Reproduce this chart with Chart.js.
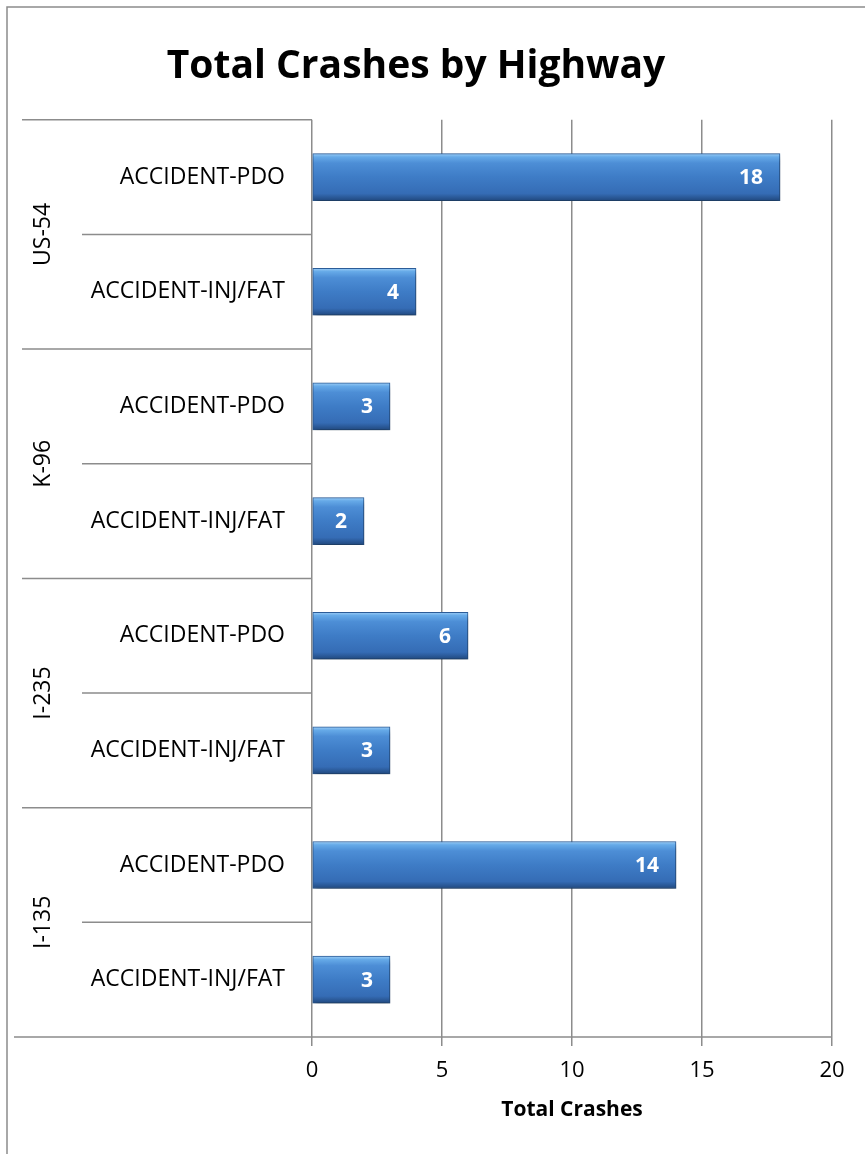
<!DOCTYPE html>
<html>
<head>
<meta charset="utf-8">
<title>Total Crashes by Highway</title>
<script src="https://cdn.jsdelivr.net/npm/chart.js@4/dist/chart.umd.min.js"></script>
<style>
  html, body { margin: 0; padding: 0; background: #fff; }
  #wrap { width: 865px; height: 1154px; position: relative; }
</style>
</head>
<body>
<div id="wrap"><canvas id="crashChart"></canvas></div>
<script>
// highways (outer category) and crash types (inner category), top to bottom
const highways = ['US-54', 'K-96', 'I-235', 'I-135'];
const crashTypes = ['ACCIDENT-PDO', 'ACCIDENT-INJ/FAT'];
const pdoCrashes = [18, 3, 6, 14];
const injFatCrashes = [4, 2, 3, 3];
const xTicks = [0, 5, 10, 15, 20];

// flatten into one row per highway + type
const labels = [];
const values = [];
highways.forEach((hw, i) => {
    labels.push(crashTypes[0]);
    values.push(pdoCrashes[i]);
    labels.push(crashTypes[1]);
    values.push(injFatCrashes[i]);
});

const FONT = "'Open Sans', 'DejaVu Sans', sans-serif";
const LINE = '#8c8c8c';
const BAR_H = 47;

function barFill(context) {
    const chart = context.chart;
    const y = chart.scales.y;
    if (!y || context.dataIndex === undefined) return '#3b78c0';
    const c = y.getPixelForValue(context.dataIndex);
    if (!Number.isFinite(c)) return '#3b78c0';
    const g = chart.ctx.createLinearGradient(0, c - BAR_H / 2, 0, c + BAR_H / 2);
    g.addColorStop(0, '#9ccdf6');
    g.addColorStop(0.07, '#66aae8');
    g.addColorStop(0.2, '#4d8ed6');
    g.addColorStop(0.5, '#3e7cc6');
    g.addColorStop(0.85, '#356cb5');
    g.addColorStop(1, '#21497f');
    return g;
}

// frame, category dividers, group labels, bottom axis line
const decorations = {
    id: 'decorations',
    beforeDraw(chart) {
        const ctx = chart.ctx;
        ctx.save();
        ctx.strokeStyle = LINE;
        ctx.lineWidth = 1.5;
        ctx.beginPath();
        ctx.moveTo(7, chart.height);
        ctx.lineTo(7, 7);
        ctx.lineTo(chart.width, 7);
        ctx.stroke();
        ctx.restore();
    },
    afterDraw(chart) {
        const ctx = chart.ctx;
        const y = chart.scales.y;
        const area = chart.chartArea;
        const boundary = i => (y.getPixelForValue(i) + y.getPixelForValue(i + 1)) / 2;
        ctx.save();
        ctx.strokeStyle = LINE;
        ctx.lineWidth = 1.5;
        ctx.beginPath();
        // top line
        ctx.moveTo(22, area.top);
        ctx.lineTo(area.left, area.top);
        for (let i = 0; i < labels.length - 1; i++) {
            const py = boundary(i);
            const startX = (i % 2 === 1) ? 22 : 82;
            ctx.moveTo(startX, py);
            ctx.lineTo(area.left, py);
        }
        // bottom axis line
        ctx.moveTo(14, area.bottom);
        ctx.lineTo(area.right, area.bottom);
        ctx.stroke();

        // highway labels, rotated
        ctx.fillStyle = '#000';
        ctx.font = '23px ' + FONT;
        ctx.textAlign = 'center';
        ctx.textBaseline = 'middle';
        highways.forEach((hw, i) => {
            const cy = (y.getPixelForValue(i * 2) + y.getPixelForValue(i * 2 + 1)) / 2;
            ctx.save();
            ctx.translate(43, cy);
            ctx.rotate(-Math.PI / 2);
            ctx.fillText(hw, 0, 0);
            ctx.restore();
        });
        ctx.restore();
    },
    beforeDatasetsDraw(chart) {
        const ctx = chart.ctx;
        ctx.save();
        ctx.shadowColor = 'rgba(0,0,0,0.4)';
        ctx.shadowBlur = 6;
        ctx.shadowOffsetX = 2;
        ctx.shadowOffsetY = 4;
    },
    afterDatasetsDraw(chart) {
        const ctx = chart.ctx;
        ctx.restore();
        // value labels inside bar ends
        const meta = chart.getDatasetMeta(0);
        ctx.save();
        ctx.fillStyle = '#fff';
        ctx.font = 'bold 21px ' + FONT;
        ctx.textAlign = 'right';
        ctx.textBaseline = 'middle';
        meta.data.forEach((bar, i) => {
            ctx.fillText(String(values[i]), bar.x - 17, bar.y + 1);
        });
        ctx.restore();
    }
};

const chart = new Chart(document.getElementById('crashChart'), {
    type: 'bar',
    data: {
        labels: labels,
        datasets: [{
            label: 'Total Crashes',
            data: values,
            backgroundColor: barFill,
            borderColor: '#2d5f9c',
            borderWidth: 1,
            borderSkipped: false,
            barThickness: BAR_H
        }]
    },
    options: {
        indexAxis: 'y',
        responsive: true,
        maintainAspectRatio: false,
        animation: false,
        layout: { padding: { left: 0, right: 33, top: 0, bottom: 0 } },
        plugins: {
            legend: { display: false },
            tooltip: { enabled: false },
            title: {
                display: true,
                text: 'Total Crashes by Highway',
                color: '#000',
                font: { family: FONT, size: 39, weight: 'bold', lineHeight: 1.2 },
                padding: { top: 43, bottom: 30 }
            }
        },
        scales: {
            x: {
                min: 0,
                max: 20,
                afterBuildTicks: scale => { scale.ticks = xTicks.map(v => ({ value: v })); },
                afterFit: scale => { scale.height = 117; },
                grid: { color: LINE, lineWidth: 1.5, tickLength: 9, drawTicks: true },
                border: { display: false },
                ticks: { color: '#000', font: { family: FONT, size: 22 }, padding: 12 },
                title: {
                    display: true,
                    text: 'Total Crashes',
                    color: '#000',
                    font: { family: FONT, size: 21, weight: 'bold', lineHeight: 1.2 },
                    padding: { top: 0, bottom: 31 }
                }
            },
            y: {
                afterFit: scale => { scale.width = 312; },
                grid: { display: false, drawTicks: false },
                border: { display: false },
                ticks: { color: '#000', font: { family: FONT, size: 23 }, padding: 27 }
            }
        }
    },
    plugins: [decorations]
});
</script>
</body>
</html>
